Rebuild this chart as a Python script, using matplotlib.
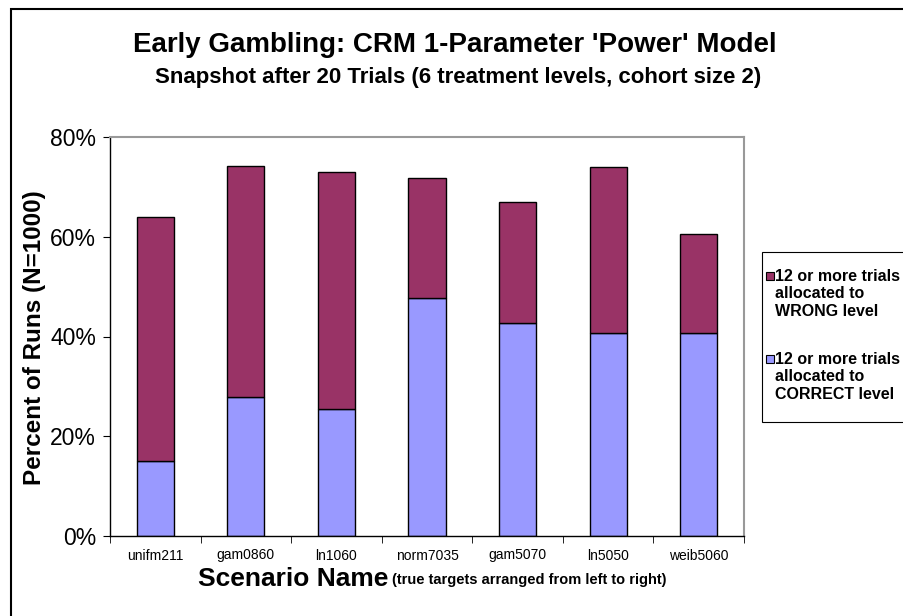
import numpy as np
import matplotlib.pyplot as plt
from matplotlib.patches import Rectangle

plt.rcParams['font.family'] = ['Liberation Sans', 'DejaVu Sans']

scenarios = ['unifm211', 'gam0860', 'ln1060', 'norm7035', 'gam5070', 'ln5050', 'weib5060']
correct_pct = [15.0, 27.8, 25.4, 47.7, 42.8, 40.7, 40.7]
total_pct = [63.9, 74.1, 72.9, 71.8, 67.0, 74.0, 60.5]
wrong_pct = [t - c for t, c in zip(total_pct, correct_pct)]

color_wrong = '#993366'
color_correct = '#9999FF'
label_wrong = '12 or more trials\nallocated to\nWRONG level'
label_correct = '12 or more trials\nallocated to\nCORRECT level'

W, H = 904, 616
fig = plt.figure(figsize=(W / 100, H / 100), dpi=100)
ax = fig.add_axes([110 / W, 1 - 536 / H, (744 - 110) / W, (536 - 137) / H])

x = np.arange(len(scenarios))
ax.bar(x, correct_pct, width=0.41, color=color_correct, edgecolor='black', linewidth=1)
ax.bar(x, wrong_pct, width=0.41, bottom=correct_pct, color=color_wrong,
       edgecolor='black', linewidth=1)

ax.set_xlim(-0.5, len(scenarios) - 0.5)
ax.set_ylim(0, 80)
ax.set_yticks([0, 20, 40, 60, 80])
ax.set_yticklabels(['0%', '20%', '40%', '60%', '80%'], fontsize=16.5)
ax.set_xticks(x)
ax.set_xticklabels(scenarios, fontsize=10)
ax.set_xticks(np.arange(-0.5, len(scenarios)), minor=True)
ax.tick_params(axis='x', which='major', length=0, pad=9)
ax.tick_params(axis='x', which='minor', length=5, direction='out', color='black')
ax.tick_params(axis='y', length=5, direction='out', pad=5)

for side in ['top', 'right']:
    ax.spines[side].set_color('#999999')
    ax.spines[side].set_linewidth(1.5)
for side in ['left', 'bottom']:
    ax.spines[side].set_color('black')
    ax.spines[side].set_linewidth(1)

fig.text(35 / W, 1 - 338 / H, 'Percent of Runs (N=1000)', rotation=90,
         ha='center', va='center', fontsize=17.5, fontweight='bold')

fig.text(455 / W, 1 - 45 / H, "Early Gambling: CRM 1-Parameter 'Power' Model",
         ha='center', va='center', fontsize=20, fontweight='bold')
fig.text(458 / W, 1 - 78 / H, 'Snapshot after 20 Trials (6 treatment levels, cohort size 2)',
         ha='center', va='center', fontsize=16, fontweight='bold')

# x label in two sizes
t1 = fig.text(198 / W, 1 - 579 / H, 'Scenario Name', ha='left', va='center',
              fontsize=19, fontweight='bold')
fig.canvas.draw()
bb = t1.get_window_extent()
fig.text((bb.x1 + 4) / W, 1 - 580 / H, '(true targets arranged from left to right)',
         ha='left', va='center', fontsize=10.5, fontweight='bold')

# legend box drawn by hand (markers sit on first line, box runs off the right edge)
fig.patches.append(Rectangle((762 / W, 1 - 422 / H), 0.2, (422 - 252) / H,
                             transform=fig.transFigure, facecolor='white',
                             edgecolor='black', linewidth=0.8))
for y_top, col, lab in [(269, color_wrong, label_wrong), (352, color_correct, label_correct)]:
    fig.patches.append(Rectangle((766 / W, 1 - (y_top + 11) / H), 8 / W, 8 / H,
                                 transform=fig.transFigure, facecolor=col,
                                 edgecolor='black', linewidth=0.8))
    fig.text(775 / W, 1 - y_top / H, lab, ha='left', va='top', fontsize=11.5,
             fontweight='bold', linespacing=1.2)

# outer chart border (extends past the image on right and bottom)
fig.patches.append(Rectangle((11 / W, -0.1), 1.2, 1 - 9 / H + 0.1,
                             transform=fig.transFigure, fill=False,
                             edgecolor='black', linewidth=1.5))

fig.savefig('out.png', dpi=100)
